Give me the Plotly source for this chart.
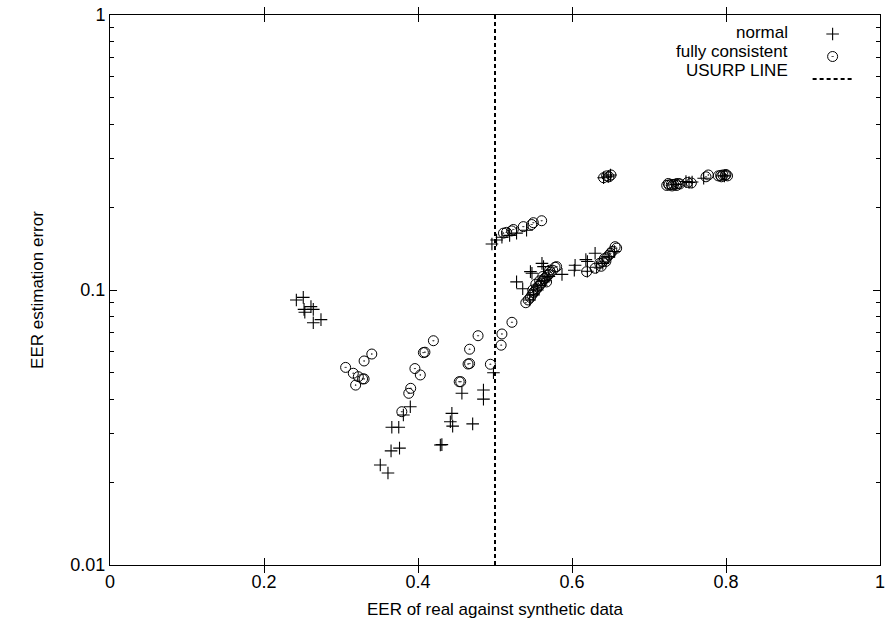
import plotly.graph_objects as go

# ---- data ----
normal_x = [0.242, 0.251, 0.252, 0.253, 0.261, 0.264, 0.264, 0.274,
            0.351, 0.361, 0.365, 0.376, 0.366, 0.375, 0.381, 0.390,
            0.429, 0.431, 0.442, 0.445, 0.444, 0.457, 0.471, 0.485, 0.485, 0.498,
            0.496, 0.502, 0.509, 0.519, 0.528, 0.541,
            0.528, 0.536, 0.546, 0.548, 0.561, 0.563, 0.587, 0.604, 0.603, 0.618, 0.620, 0.630,
            0.545, 0.550, 0.555, 0.560, 0.565, 0.570, 0.620, 0.632, 0.640, 0.648, 0.655,
            0.641, 0.647, 0.650,
            0.735, 0.748, 0.752, 0.756, 0.771, 0.798]
normal_y = [0.092, 0.094, 0.085, 0.083, 0.087, 0.085, 0.076, 0.078,
            0.0231, 0.0216, 0.0260, 0.0266, 0.0317, 0.0317, 0.0351, 0.0376,
            0.0273, 0.0274, 0.0332, 0.0320, 0.0356, 0.0421, 0.0326, 0.0433, 0.0401, 0.0500,
            0.147, 0.152, 0.1555, 0.158, 0.161, 0.165,
            0.107, 0.101, 0.1166, 0.115, 0.125, 0.1216, 0.114, 0.123, 0.118, 0.129, 0.127, 0.136,
            0.092, 0.096, 0.100, 0.104, 0.108, 0.112, 0.117, 0.121, 0.125, 0.132, 0.138,
            0.256, 0.258, 0.262,
            0.242, 0.248, 0.246, 0.247, 0.255, 0.260]

consistent_x = [0.306, 0.316, 0.3225, 0.319, 0.328, 0.330, 0.330, 0.340,
                0.379, 0.388, 0.3905, 0.396, 0.403, 0.407, 0.409, 0.420,
                0.4535, 0.4555, 0.465, 0.467, 0.467, 0.478, 0.494, 0.508, 0.509, 0.522,
                0.511, 0.515, 0.5216, 0.5238, 0.5368, 0.5476, 0.5498, 0.5606,
                0.540, 0.543, 0.546, 0.548, 0.550, 0.552, 0.554, 0.556, 0.558, 0.560,
                0.562, 0.564, 0.566, 0.568, 0.570, 0.572, 0.575, 0.578, 0.580,
                0.553, 0.558, 0.562, 0.567, 0.549, 0.571,
                0.619, 0.630, 0.636, 0.640, 0.642, 0.645, 0.648, 0.650, 0.652, 0.656, 0.658, 0.644, 0.638,
                0.641, 0.645, 0.6506, 0.648,
                0.723, 0.726, 0.729, 0.732, 0.735, 0.738, 0.740, 0.725, 0.730, 0.736,
                0.750, 0.755, 0.777, 0.774,
                0.790, 0.793, 0.796, 0.799, 0.802, 0.794, 0.800]
consistent_y = [0.0523, 0.0498, 0.0484, 0.0451, 0.0475, 0.0475, 0.0552, 0.0585,
                0.0361, 0.0421, 0.0439, 0.0518, 0.0491, 0.0592, 0.0594, 0.0654,
                0.0464, 0.0464, 0.0538, 0.0540, 0.0609, 0.0682, 0.0537, 0.0630, 0.0692, 0.0763,
                0.161, 0.162, 0.164, 0.166, 0.170, 0.173, 0.1757, 0.1786,
                0.0899, 0.092, 0.094, 0.096, 0.098, 0.099, 0.101, 0.103, 0.104, 0.106,
                0.108, 0.110, 0.111, 0.113, 0.114, 0.116, 0.118, 0.121, 0.1216,
                0.105, 0.108, 0.112, 0.107, 0.100, 0.118,
                0.1166, 0.120, 0.125, 0.127, 0.130, 0.131, 0.134, 0.136, 0.138, 0.1437, 0.142, 0.127, 0.122,
                0.256, 0.260, 0.262, 0.258,
                0.240, 0.241, 0.242, 0.242, 0.243, 0.244, 0.243, 0.244, 0.239, 0.240,
                0.246, 0.245, 0.262, 0.258,
                0.260, 0.261, 0.262, 0.261, 0.260, 0.258, 0.263]

usurp_x = [0.5, 0.5]
usurp_y = [0.01, 1.0]

series_names = ["normal", "fully consistent", "USURP LINE"]

x_ticks = [0, 0.2, 0.4, 0.6, 0.8, 1]
x_ticktext = ["0", "0.2", "0.4", "0.6", "0.8", "1"]
y_ticks = [0.01, 0.1, 1]
y_ticktext = ["0.01", "0.1", "1"]
y_minor_ticks = [0.02, 0.03, 0.04, 0.05, 0.06, 0.07, 0.08, 0.09,
                 0.2, 0.3, 0.4, 0.5, 0.6, 0.7, 0.8, 0.9]

FONT = "Liberation Sans, Arial, sans-serif"

plus_marker = dict(symbol="cross-thin-open", size=9, color="black",
                   line=dict(color="black", width=1.1))
circle_marker = dict(symbol="circle-open-dot", size=10, color="black",
                     line=dict(color="black", width=1.0))
dash_line = dict(color="black", width=2, dash="4px,3px")

fig = go.Figure()
fig.add_trace(go.Scatter(x=normal_x, y=normal_y, mode="markers",
                         name=series_names[0], marker=plus_marker, showlegend=False))
fig.add_trace(go.Scatter(x=consistent_x, y=consistent_y, mode="markers",
                         name=series_names[1], marker=circle_marker, showlegend=False))
fig.add_trace(go.Scatter(x=usurp_x, y=usurp_y, mode="lines",
                         name=series_names[2], line=dash_line, showlegend=False))

# legend keys (gnuplot style: label text right-aligned, key sample to its right)
fig.add_trace(go.Scatter(x=[None], y=[None], mode="markers", name=" ",
                         marker=plus_marker, hoverinfo="skip"))
fig.add_trace(go.Scatter(x=[None], y=[None], mode="markers", name=" ",
                         marker=circle_marker, hoverinfo="skip"))
fig.add_trace(go.Scatter(x=[None], y=[None], mode="lines", name=" ",
                         line=dash_line, hoverinfo="skip"))

label_y = [0.968, 0.933, 0.899]
for name, ly in zip(series_names, label_y):
    fig.add_annotation(text=name, xref="paper", yref="paper", x=0.883, y=ly,
                       xanchor="right", yanchor="middle", showarrow=False,
                       font=dict(family=FONT, size=17, color="black"))

fig.update_layout(
    width=887, height=628,
    margin=dict(l=110, r=7, t=15, b=63, autoexpand=False),
    paper_bgcolor="white", plot_bgcolor="white",
    font=dict(family=FONT, size=17, color="black"),
    showlegend=True,
    legend=dict(x=0.906, y=0.995, xanchor="left", yanchor="top",
                bgcolor="rgba(0,0,0,0)", font=dict(family=FONT, size=15),
                tracegroupgap=0, itemwidth=40, borderwidth=0),
    xaxis=dict(range=[0, 1], tickvals=x_ticks, ticktext=x_ticktext,
               tickfont=dict(family=FONT, size=18), ticklabeloverflow="allow",
               ticks="inside", ticklen=7, tickcolor="black", tickwidth=1,
               showline=True, linecolor="black", linewidth=1, mirror="allticks",
               showgrid=False, zeroline=False, automargin=False,
               title=dict(text="EER of real against synthetic data",
                          font=dict(family=FONT, size=17), standoff=12)),
    yaxis=dict(type="log", range=[-2, 0], tickvals=y_ticks, ticktext=y_ticktext,
               tickfont=dict(family=FONT, size=18), ticklabeloverflow="allow",
               ticks="inside", ticklen=7, tickcolor="black", tickwidth=1,
               showline=True, linecolor="black", linewidth=1, mirror="allticks",
               showgrid=False, zeroline=False, automargin=False,
               title=dict(text="EER estimation error",
                          font=dict(family=FONT, size=17), standoff=22)),
    yaxis2=dict(type="log", range=[-2, 0], overlaying="y", side="left",
                tickvals=y_minor_ticks, showticklabels=False,
                ticks="inside", ticklen=4, tickcolor="black", tickwidth=1,
                showline=False, mirror="allticks",
                showgrid=False, zeroline=False, automargin=False),
)
# invisible helper trace so the minor-tick axis is drawn
fig.add_trace(go.Scatter(x=[None], y=[None], yaxis="y2", showlegend=False,
                         hoverinfo="skip"))

# remove the browser's default 8px body margin so the 887x628 figure fills the window
fig.write_html("out.html",
               config={"displayModeBar": False},
               post_script="document.body.style.margin='0';document.body.style.overflow='hidden';")
